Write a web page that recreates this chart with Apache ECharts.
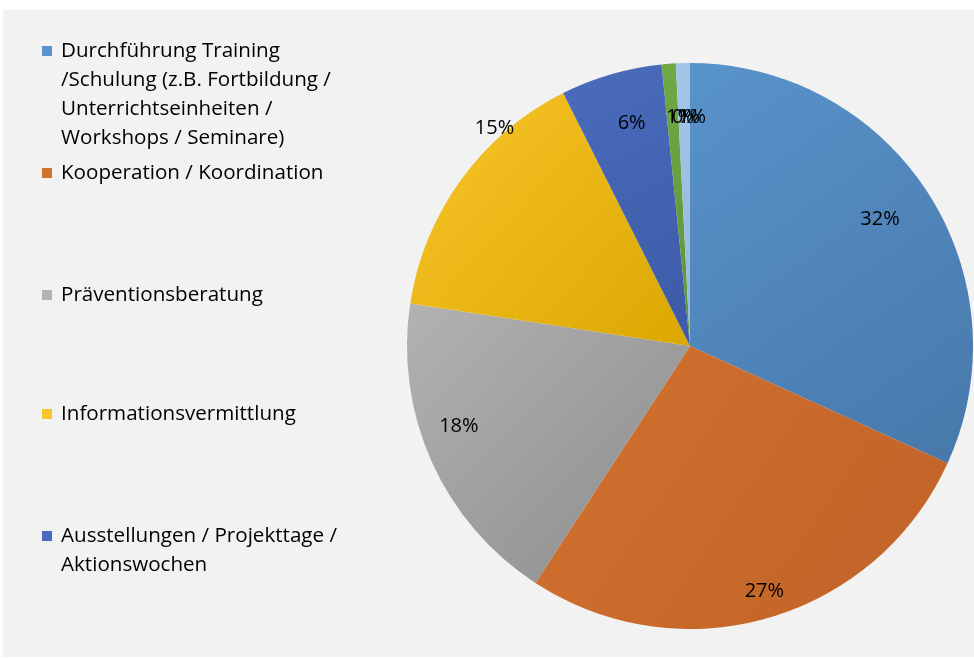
<!DOCTYPE html>
<html>
<head>
<meta charset="utf-8">
<script src="https://cdn.jsdelivr.net/npm/echarts@6/dist/echarts.min.js"></script>
<style>
html,body{margin:0;padding:0;background:#ffffff;width:974px;height:660px;overflow:hidden;}
#chart{position:absolute;left:3px;top:10px;width:971px;height:647px;background:#f2f2f2;}
</style>
</head>
<body>
<div id="chart"></div>
<script>
// Categories (slice order, clockwise from 12 o'clock)
const categories = [
  'Durchführung Training /Schulung (z.B. Fortbildung / Unterrichtseinheiten / Workshops / Seminare)',
  'Kooperation / Koordination',
  'Präventionsberatung',
  'Informationsvermittlung',
  'Ausstellungen / Projekttage / Aktionswochen',
  'Sonstiges A',
  'Sonstiges B',
  'Sonstiges C'
];
// Legend text lines (as wrapped in the reference)
const legendLines = [
  ['Durchführung Training', '/Schulung (z.B. Fortbildung /', 'Unterrichtseinheiten /', 'Workshops / Seminare)'],
  ['Kooperation / Koordination'],
  ['Präventionsberatung'],
  ['Informationsvermittlung'],
  ['Ausstellungen / Projekttage /', 'Aktionswochen']
];
// Percent values
const values = [31.8, 27.4, 18.2, 15.2, 5.8, 0.8, 0, 0.8];
// Slice colours: [light, dark] for a gentle gradient
const colors = [
  ['#5893cb', '#4878aa'],
  ['#d2722f', '#c06228'],
  ['#b2b2b2', '#8c8c8c'],
  ['#f9c52a', '#dba700'],
  ['#4a6cbc', '#3c5aa6'],
  ['#6fa845', '#5e9238'],
  ['#2a5f93', '#24507d'],
  ['#a2c5e8', '#94b9de']
];
// Label nudges [dx, dy] (Excel "best fit" placement)
const labelNudges = [
  [-10, 2],
  [8, 17],
  [-14, -17],
  [-3, -78],
  [8, 6],
  [8, 9],
  [8, 9],
  [8, 9]
];

const chart = echarts.init(document.getElementById('chart'), null, {renderer: 'canvas'});

const center = [687, 336];
const R = 283;

function grad(c) {
  return {type: 'linear', x: 0, y: 0, x2: 1, y2: 1,
    colorStops: [{offset: 0, color: c[0]}, {offset: 1, color: c[1]}]};
}

const pieData = categories.map((n, i) => ({
  name: n, value: values[i], itemStyle: {color: grad(colors[i])}
}));
const labelData = categories.map((n, i) => ({name: n, value: values[i]}));

const legendTops = [26.5, 148.5, 270.5, 389.5, 511.5];
const fontFamily = '"Open Sans", Lato, sans-serif';

const legends = legendLines.map((lines, i) => {
  const rich = {
    sq: {width: 10, height: 10, backgroundColor: colors[i][0], verticalAlign: 'middle'},
    g: {width: 9},
    sp: {width: 19},
    t: {fontSize: 20.6, fontFamily: fontFamily, color: '#000000', lineHeight: 29}
  };
  return {
    data: [categories[i]],
    left: 34,
    top: legendTops[i],
    padding: 0,
    orient: 'vertical',
    icon: 'rect',
    itemWidth: 0,
    itemHeight: 0,
    itemStyle: {opacity: 0},
    selectedMode: false,
    textStyle: {rich: rich, lineHeight: 29},
    formatter: function () {
      return lines.map((l, k) => (k === 0 ? '{sq|}{g|}' : '{sp|}') + '{t|' + l + '}').join('\n');
    }
  };
});

chart.setOption({
  animation: false,
  legend: legends,
  series: [
    {
      type: 'pie',
      center: center,
      radius: [0, R],
      startAngle: 90,
      clockwise: true,
      avoidLabelOverlap: false,
      label: {show: false},
      labelLine: {show: false},
      silent: true,
      itemStyle: {borderWidth: 0},
      data: pieData
    },
    {
      type: 'pie',
      center: center,
      radius: [R * 0.66, R],
      startAngle: 90,
      clockwise: true,
      avoidLabelOverlap: false,
      minShowLabelAngle: -1,
      labelLayout: function (params) {
        const n = labelNudges[params.dataIndex] || [0, 0];
        return {dx: n[0], dy: n[1], hideOverlap: false};
      },
      silent: true,
      itemStyle: {color: 'rgba(0,0,0,0)', borderWidth: 0},
      label: {
        show: true,
        position: 'inside',
        fontSize: 20,
        fontFamily: fontFamily,
        color: '#000000',
        formatter: function (p) { return Math.round(p.value) + '%'; }
      },
      labelLine: {show: false},
      data: labelData
    }
  ]
});
</script>
</body>
</html>
